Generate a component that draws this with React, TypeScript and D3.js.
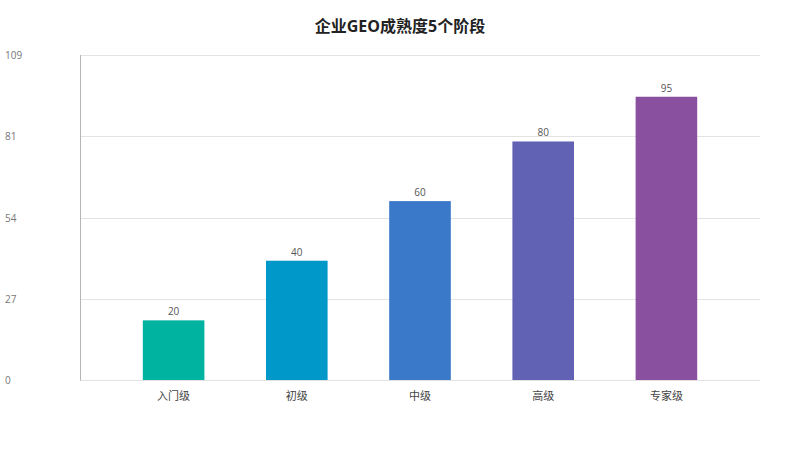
import React, { useEffect, useRef } from "react";
import * as d3 from "d3";

const categories = ["入门级", "初级", "中级", "高级", "专家级"];
const values = [20, 40, 60, 80, 95];
const barColors = ["#00B3A0", "#0098C9", "#3A78C9", "#6262B5", "#8A50A0"];
const yMax = 109;
const yTickCount = 4;

const WIDTH = 800;
const HEIGHT = 450;
const FONT = "'Open Sans', 'Noto Sans CJK SC', sans-serif";

export default function App() {
  const svgRef = useRef<SVGSVGElement>(null);

  useEffect(() => {
    if (!svgRef.current) return;
    const svg = d3.select(svgRef.current);
    svg.selectAll("*").remove();

    const plot = { left: 80, right: 760, top: 55, bottom: 380 };

    const y = d3.scaleLinear().domain([0, yMax]).range([plot.bottom, plot.top]);
    const x = d3
      .scaleBand<string>()
      .domain(categories)
      .range([112, 728])
      .paddingInner(0.5)
      .paddingOuter(0.25);

    // evenly spaced ticks up to the max, labels floored
    const ticks = d3.range(yTickCount + 1).map((i) => (yMax * i) / yTickCount);

    svg
      .append("g")
      .selectAll("line")
      .data(ticks)
      .enter()
      .append("line")
      .attr("x1", plot.left)
      .attr("x2", plot.right)
      .attr("y1", (d) => Math.round(y(d)) + 0.5)
      .attr("y2", (d) => Math.round(y(d)) + 0.5)
      .attr("stroke", "#e3e3e3")
      .attr("stroke-width", 1);

    svg
      .append("g")
      .selectAll("text")
      .data(ticks)
      .enter()
      .append("text")
      .attr("x", 5)
      .attr("y", (d) => y(d) + 4)
      .style("font-family", FONT)
      .style("font-size", "10px")
      .style("fill", "#777")
      .text((d) => Math.floor(d));

    // left axis line
    svg
      .append("line")
      .attr("x1", plot.left + 0.5)
      .attr("x2", plot.left + 0.5)
      .attr("y1", plot.top)
      .attr("y2", plot.bottom + 0.5)
      .attr("stroke", "#b5b5b5")
      .attr("stroke-width", 1);

    // bars
    svg
      .append("g")
      .selectAll("rect")
      .data(values)
      .enter()
      .append("rect")
      .attr("x", (_, i) => x(categories[i])!)
      .attr("width", x.bandwidth())
      .attr("y", (d) => y(d))
      .attr("height", (d) => plot.bottom - y(d))
      .attr("fill", (_, i) => barColors[i % barColors.length]);

    // value labels
    svg
      .append("g")
      .selectAll("text")
      .data(values)
      .enter()
      .append("text")
      .attr("x", (_, i) => x(categories[i])! + x.bandwidth() / 2)
      .attr("y", (d) => y(d) - 5)
      .attr("text-anchor", "middle")
      .style("font-family", FONT)
      .style("font-size", "10px")
      .style("fill", "#555")
      .text((d) => d);

    // category labels
    svg
      .append("g")
      .selectAll("text")
      .data(categories)
      .enter()
      .append("text")
      .attr("x", (d) => x(d)! + x.bandwidth() / 2)
      .attr("y", 400)
      .attr("text-anchor", "middle")
      .style("font-family", FONT)
      .style("font-size", "11px")
      .style("fill", "#444")
      .text((d) => d);

    // title
    svg
      .append("text")
      .attr("x", WIDTH / 2)
      .attr("y", 32)
      .attr("text-anchor", "middle")
      .style("font-family", FONT)
      .style("font-size", "16px")
      .style("font-weight", "bold")
      .style("fill", "#222")
      .text("企业GEO成熟度5个阶段");
  }, []);

  return (
    <svg
      ref={svgRef}
      width={WIDTH}
      height={HEIGHT}
      style={{ position: "absolute", left: 0, top: 0, background: "#fff" }}
    />
  );
}
